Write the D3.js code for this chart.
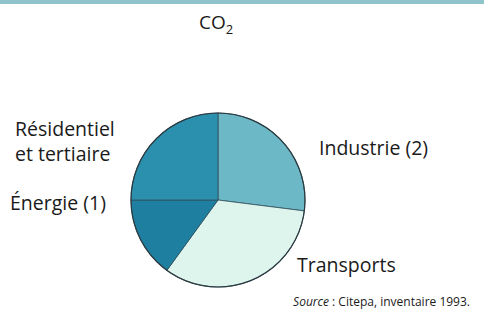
<!DOCTYPE html>
<html>
<head>
<meta charset="utf-8">
<script src="https://cdn.jsdelivr.net/npm/d3@7"></script>
<style>
  html, body { margin: 0; padding: 0; background: #fff; }
  svg { display: block; font-family: "Open Sans", "Noto Sans", sans-serif; }
</style>
</head>
<body>
<div id="chart"></div>
<script>
// CO2 emissions par secteur (%)
const categories = ['Industrie (2)', 'Transports', 'Énergie (1)', 'Résidentiel et tertiaire'];
const shares = [27, 33, 15, 25];
const sliceColors = ['#6cb8c6', '#def5ee', '#1e7fa0', '#2b8fae'];

// label placement (relative to pie centre), one line per tspan
const labelLayout = {
  'Industrie (2)': { dx: 101, dy: -45, lines: ['Industrie (2)'] },
  'Transports': { dx: 79, dy: 72, lines: ['Transports'] },
  'Énergie (1)': { dx: -208, dy: 10, lines: ['Énergie (1)'] },
  'Résidentiel et tertiaire': { dx: -203, dy: -64, lines: ['Résidentiel', 'et tertiaire'] }
};

const width = 484, height = 332;
const cx = 218, cy = 200, radius = 87;

const svg = d3.select('#chart')
  .append('svg')
  .attr('width', width)
  .attr('height', height);

// top band
svg.append('rect')
  .attr('x', 0).attr('y', 0)
  .attr('width', width).attr('height', 4)
  .attr('fill', '#8fc4cc');

// title
const title = svg.append('text')
  .attr('x', 199)
  .attr('y', 29)
  .attr('fill', '#1a1a1a')
  .style('font-size', '19px');
title.append('tspan').text('CO');
title.append('tspan').attr('dy', 5).style('font-size', '13px').text('2');

const data = categories.map((c, i) => ({ name: c, value: shares[i], color: sliceColors[i] }));

const pie = d3.pie().sort(null).value(d => d.value);
const arc = d3.arc().innerRadius(0).outerRadius(radius);

const g = svg.append('g').attr('transform', `translate(${cx},${cy})`);

g.selectAll('path.slice')
  .data(pie(data))
  .enter()
  .append('path')
  .attr('class', 'slice')
  .attr('d', arc)
  .attr('fill', d => d.data.color)
  .attr('stroke', '#2f4f5a')
  .attr('stroke-width', 0.8);

// outer rim
g.append('circle')
  .attr('r', radius)
  .attr('fill', 'none')
  .attr('stroke', '#2b3a40')
  .attr('stroke-width', 1.2);

// labels
data.forEach(d => {
  const L = labelLayout[d.name];
  L.lines.forEach((line, i) => {
    svg.append('text')
      .attr('x', cx + L.dx)
      .attr('y', cy + L.dy + i * 25)
      .attr('fill', '#1a1a1a')
      .style('font-size', '19.5px')
      .text(line);
  });
});

// source
const src = svg.append('text')
  .attr('x', 470)
  .attr('y', 306)
  .attr('text-anchor', 'end')
  .attr('fill', '#1a1a1a')
  .style('font-size', '12px');
src.append('tspan').style('font-style', 'italic').text('Source');
src.append('tspan').text(' :  Citepa, inventaire 1993.');
</script>
</body>
</html>
